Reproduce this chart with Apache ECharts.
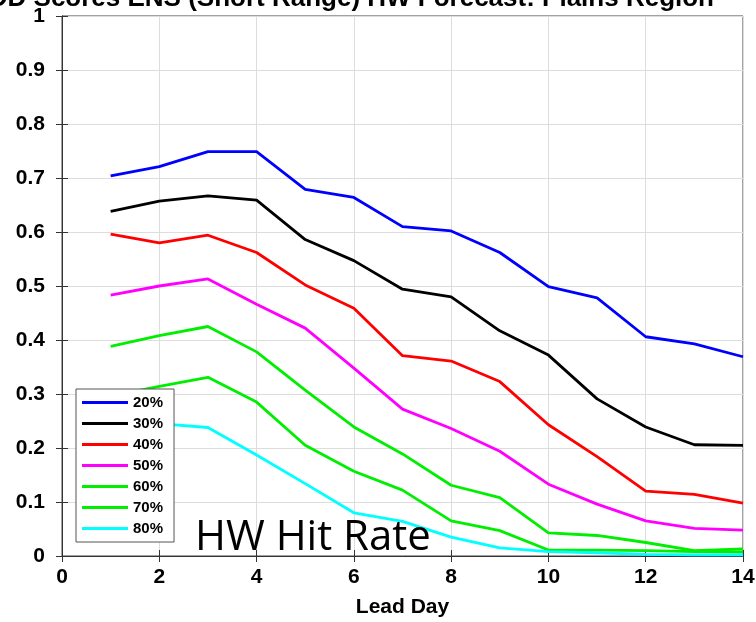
<!DOCTYPE html>
<html>
<head>
<meta charset="utf-8">
<script src="https://cdn.jsdelivr.net/npm/echarts@6/dist/echarts.min.js"></script>
<style>html,body{margin:0;padding:0;background:#fff;}#c{width:756px;height:622px;}</style>
</head>
<body>
<div id="c"></div>
<script>
const leadDays = [1,2,3,4,5,6,7,8,9,10,11,12,13,14];
const seriesNames = ['20%','30%','40%','50%','60%','70%','80%'];
const seriesColors = ['#0000ff','#000000','#ff0000','#ff00ff','#00ee00','#00ee00','#00ffff'];
const p20 = [0.704,0.721,0.749,0.749,0.679,0.664,0.610,0.602,0.562,0.499,0.478,0.406,0.393,0.369];
const p30 = [0.638,0.657,0.667,0.659,0.586,0.547,0.494,0.480,0.417,0.372,0.291,0.239,0.206,0.205];
const p40 = [0.596,0.580,0.594,0.562,0.502,0.459,0.371,0.361,0.323,0.243,0.184,0.120,0.114,0.098];
const p50 = [0.483,0.500,0.513,0.466,0.422,0.348,0.272,0.236,0.194,0.133,0.096,0.065,0.051,0.048];
const p60 = [0.388,0.408,0.425,0.378,0.307,0.239,0.189,0.131,0.108,0.043,0.038,0.025,0.010,0.013];
const p70 = [0.296,0.314,0.331,0.285,0.205,0.157,0.122,0.065,0.047,0.011,0.011,0.010,0.008,0.007];
const p80 = [0.250,0.245,0.238,0.187,0.134,0.080,0.064,0.035,0.015,0.008,0.006,0.003,0.002,0.002];
const allValues = [p20,p30,p40,p50,p60,p70,p80];
const titleText = 'OD Scores ENS (Short Range) HW Forecast: Plains Region';
const xLabel = 'Lead Day';
const noteText = 'HW Hit Rate';

const chart = echarts.init(document.getElementById('c'), null, {renderer:'canvas'});
const labelFont = {fontFamily:'Liberation Sans, Arial, sans-serif', fontWeight:'bold', fontSize:21, color:'#000'};
const series = seriesNames.map((n,i)=>({
  name:n, type:'line', symbol:'none', z:3,
  lineStyle:{color:seriesColors[i], width:2.8},
  itemStyle:{color:seriesColors[i]},
  data: leadDays.map((d,k)=>[d, allValues[i][k]])
}));
chart.setOption({
  animation:false,
  backgroundColor:'#fff',
  grid:{left:62, right:13, top:16, bottom:66, show:true, borderColor:'#444', borderWidth:1, outerBoundsMode:'none', containLabel:false},
  xAxis:[{
    type:'value', min:0, max:14, interval:2, position:'bottom',
    name:xLabel, nameLocation:'middle', nameGap:41,
    nameTextStyle:labelFont,
    axisLine:{show:true, lineStyle:{color:'#333'}},
    axisTick:{show:true, inside:true, length:6, lineStyle:{color:'#333'}},
    axisLabel:{...labelFont, margin:11},
    splitLine:{show:true, lineStyle:{color:'#dddddd', width:1}}
  },{
    type:'value', min:0, max:14, interval:2, position:'top',
    axisLine:{show:true, lineStyle:{color:'#333'}},
    axisTick:{show:true, inside:true, length:6, lineStyle:{color:'#333'}},
    axisLabel:{show:false}, splitLine:{show:false}
  }],
  yAxis:[{
    type:'value', min:0, max:1, interval:0.1, position:'left',
    axisLine:{show:true, lineStyle:{color:'#333'}},
    axisTick:{show:true, inside:true, length:6, lineStyle:{color:'#333'}},
    axisLabel:{...labelFont, margin:17},
    splitLine:{show:true, lineStyle:{color:'#dddddd', width:1}}
  },{
    type:'value', min:0, max:1, interval:0.1, position:'right',
    axisLine:{show:true, lineStyle:{color:'#333'}},
    axisTick:{show:true, inside:true, length:6, lineStyle:{color:'#333'}},
    axisLabel:{show:false}, splitLine:{show:false}
  }],
  legend:{
    orient:'vertical', left:76, top:389, z:10,
    backgroundColor:'#fff', borderColor:'#555', borderWidth:1,
    padding:[6,11,6,6], itemGap:6, itemWidth:46, itemHeight:14,
    textStyle:{fontFamily:'Liberation Sans, Arial, sans-serif', fontWeight:'bold', fontSize:15, color:'#000'},
    data:seriesNames.map(n=>({name:n, icon:'path://M0,6 L46,6 L46,9 L0,9 Z'}))
  },
  graphic:[
    {type:'text', z:100, style:{text:titleText, x:714, y:12, textAlign:'right', textVerticalAlign:'bottom',
      font:'bold 26px "Liberation Sans", Arial, sans-serif', fill:'#000'}},
    {type:'text', z:100, style:{text:noteText, x:195, y:538, textAlign:'left', textVerticalAlign:'middle',
      font:'42px "Open Sans", sans-serif', fill:'#000'}}
  ],
  series:series
});
</script>
</body>
</html>
